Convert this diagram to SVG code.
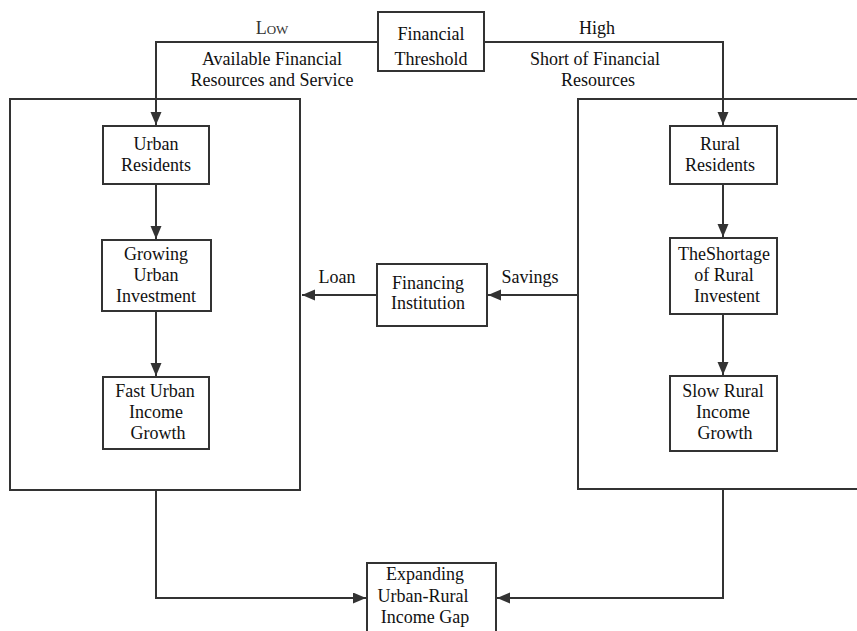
<svg xmlns="http://www.w3.org/2000/svg" width="857" height="631" viewBox="0 0 857 631">
<defs>
<marker id="arr" markerUnits="userSpaceOnUse" markerWidth="14" markerHeight="12" refX="13" refY="5.5" orient="auto">
<path d="M0,0 L13,5.5 L0,11 z" fill="#333"/>
</marker>
<style>
text{font-family:"Liberation Serif","Times New Roman",serif;font-size:18px;fill:#111;text-anchor:middle}
.box{fill:#fff;stroke:#333;stroke-width:2}
.frame{fill:none;stroke:#333;stroke-width:2}
.ln{fill:none;stroke:#333;stroke-width:2}
.ar{marker-end:url(#arr)}
</style>
</defs>
<rect width="857" height="631" fill="#fff"/>
<g id="urban-frame"><rect class="frame" x="10" y="99" width="290" height="391"/></g>
<g id="rural-frame"><rect class="frame" x="578" y="99" width="290" height="390"/></g>
<g id="connectors">
<path class="ln ar" d="M378,42 H156 V125"/>
<path class="ln ar" d="M484,42 H723 V125"/>
<path class="ln ar" d="M156,184 V239"/>
<path class="ln ar" d="M156,311 V376"/>
<path class="ln ar" d="M723,184 V237"/>
<path class="ln ar" d="M723,314 V375"/>
<path class="ln ar" d="M377,295 H302"/>
<path class="ln ar" d="M578,295 H488"/>
<path class="ln ar" d="M156,490 V598 H366"/>
<path class="ln ar" d="M723,489 V598 H497"/>
<text x="272" y="34" style="font-variant:small-caps;fill:#333">Low</text>
<text x="272" y="65">Available Financial</text>
<text x="272" y="86">Resources and Service</text>
<text x="597" y="34">High</text>
<text x="595" y="65">Short of Financial</text>
<text x="598" y="86">Resources</text>
<text x="337" y="283">Loan</text>
<text x="530" y="283">Savings</text>
</g>
<g id="financial-threshold"><rect class="box" x="378" y="12" width="106" height="59"/><text x="431" y="40">Financial</text><text x="431" y="65">Threshold</text></g>
<g id="urban-residents"><rect class="box" x="103" y="126" width="106" height="58"/><text x="156" y="150">Urban</text><text x="156" y="171">Residents</text></g>
<g id="growing-urban-investment"><rect class="box" x="102" y="240" width="109" height="71"/><text x="156" y="260">Growing</text><text x="156" y="281">Urban</text><text x="156" y="302">Investment</text></g>
<g id="fast-urban-income-growth"><rect class="box" x="103" y="377" width="106" height="72"/><text x="155" y="397">Fast Urban</text><text x="156" y="418">Income</text><text x="158" y="439">Growth</text></g>
<g id="financing-institution"><rect class="box" x="377" y="264" width="110" height="62"/><text x="428" y="289">Financing</text><text x="428" y="309">Institution</text></g>
<g id="rural-residents"><rect class="box" x="670" y="126" width="107" height="58"/><text x="720" y="150">Rural</text><text x="720" y="171">Residents</text></g>
<g id="shortage-rural-investment"><rect class="box" x="670" y="238" width="107" height="76"/><text x="724" y="260">TheShortage</text><text x="724" y="281">of Rural</text><text x="727" y="302">Investent</text></g>
<g id="slow-rural-income-growth"><rect class="box" x="670" y="376" width="107" height="75"/><text x="723" y="397">Slow Rural</text><text x="723" y="418">Income</text><text x="725" y="439">Growth</text></g>
<g id="expanding-gap"><rect class="box" x="367" y="563" width="129" height="80"/><text x="425" y="580">Expanding</text><text x="423" y="602">Urban-Rural</text><text x="425" y="623">Income Gap</text></g>
</svg>
